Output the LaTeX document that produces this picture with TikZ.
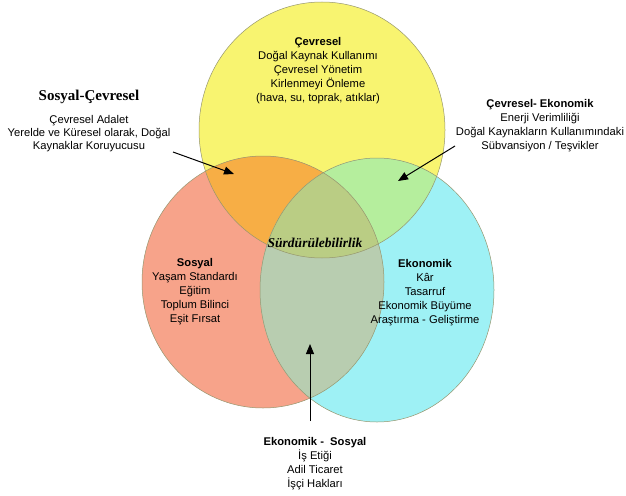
\documentclass[tikz,border=0pt]{standalone}
\usepackage{fontspec}
\setmainfont{Liberation Sans}
\newfontfamily\timesfont{Liberation Serif}
\usetikzlibrary{arrows.meta, positioning}
\definecolor{VennYellow}{RGB}{248, 244, 112}
\definecolor{VennSalmon}{RGB}{247, 163, 138}
\definecolor{VennCyan}{RGB}{158, 241, 245}
\definecolor{VennOrange}{RGB}{247, 174, 69}
\definecolor{VennLime}{RGB}{181, 238, 157}
\definecolor{VennSage}{RGB}{184, 205, 176}
\definecolor{VennCore}{RGB}{186, 205, 132}
\definecolor{VennEdge}{RGB}{150, 150, 110}

\tikzset{
  setlabel/.style={align=center, font=\fontsize{11.2}{14}\selectfont, inner sep=0pt},
  pointer/.style={-{Triangle[length=10pt, width=8pt]}, line width=1pt, black},
  edge/.style={draw=VennEdge, line width=0.5pt}
}

\begin{document}
\begin{tikzpicture}[x=1pt, y=-1pt]
  \useasboundingbox (0,0) rectangle (626,495);
  % circles
  \def\circY{(322,130) ellipse [x radius=123pt, y radius=128pt]}
  \def\circS{(263,282) ellipse [x radius=121pt, y radius=126pt]}
  \def\circE{(377,290) ellipse [x radius=117pt, y radius=132pt]}
  \fill[VennYellow] \circY;
  \fill[VennSalmon] \circS;
  \fill[VennCyan] \circE;
  \begin{scope}
    \clip \circY;
    \fill[VennOrange] \circS;
    \fill[VennLime] \circE;
  \end{scope}
  \begin{scope}
    \clip \circS;
    \fill[VennSage] \circE;
  \end{scope}
  \begin{scope}
    \clip \circY;
    \clip \circS;
    \fill[VennCore] \circE;
  \end{scope}
  \draw[edge] \circY;
  \draw[edge] \circS;
  \draw[edge] \circE;

  % set labels
  \node[setlabel] (env) at (318,71) {\textbf{Çevresel}\\Doğal Kaynak Kullanımı\\Çevresel Yönetim\\Kirlenmeyi Önleme\\(hava, su, toprak, atıklar)};
  \node[setlabel] (soc) at (195,292) {\textbf{Sosyal}\\Yaşam Standardı\\Eğitim\\Toplum Bilinci\\Eşit Fırsat};
  \node[setlabel] (eco) at (425,293) {\textbf{Ekonomik}\\Kâr\\Tasarruf\\Ekonomik Büyüme\\Araştırma - Geliştirme};
  \node[font=\timesfont\bfseries\itshape\fontsize{13.5}{15}\selectfont, inner sep=0pt] (core) at (315,243) {Sürdürülebilirlik};

  % overlap labels
  \node[font=\timesfont\bfseries\fontsize{15}{17}\selectfont, inner sep=0pt] (scHead) at (89,97) {Sosyal-Çevresel};
  \node[setlabel, font=\fontsize{11.2}{13}\selectfont, below=11pt of scHead] (scText) {Çevresel Adalet\\Yerelde ve Küresel olarak, Doğal\\Kaynaklar Koruyucusu};
  \node[setlabel] (ceText) at (540,126) {\textbf{Çevresel- Ekonomik}\\Enerji Verimliliği\\Doğal Kaynakların Kullanımındaki\\Sübvansiyon / Teşvikler};
  \node[setlabel] (esText) at (315,464) {\textbf{Ekonomik -\ \ Sosyal}\\İş Etiği\\Adil Ticaret\\İşçi Hakları};

  % pointers
  \coordinate (scTail) at (173,152);
  \coordinate (scTip) at (234,174);
  \coordinate (ceTail) at (455,146);
  \coordinate (ceTip) at (398,181);
  \coordinate (esTail) at (310,421);
  \coordinate (esTip) at (310,344);
  \draw[pointer] (scTail) -- (scTip);
  \draw[pointer] (ceTail) -- (ceTip);
  \draw[pointer] (esTail) -- (esTip);
\end{tikzpicture}
\end{document}
